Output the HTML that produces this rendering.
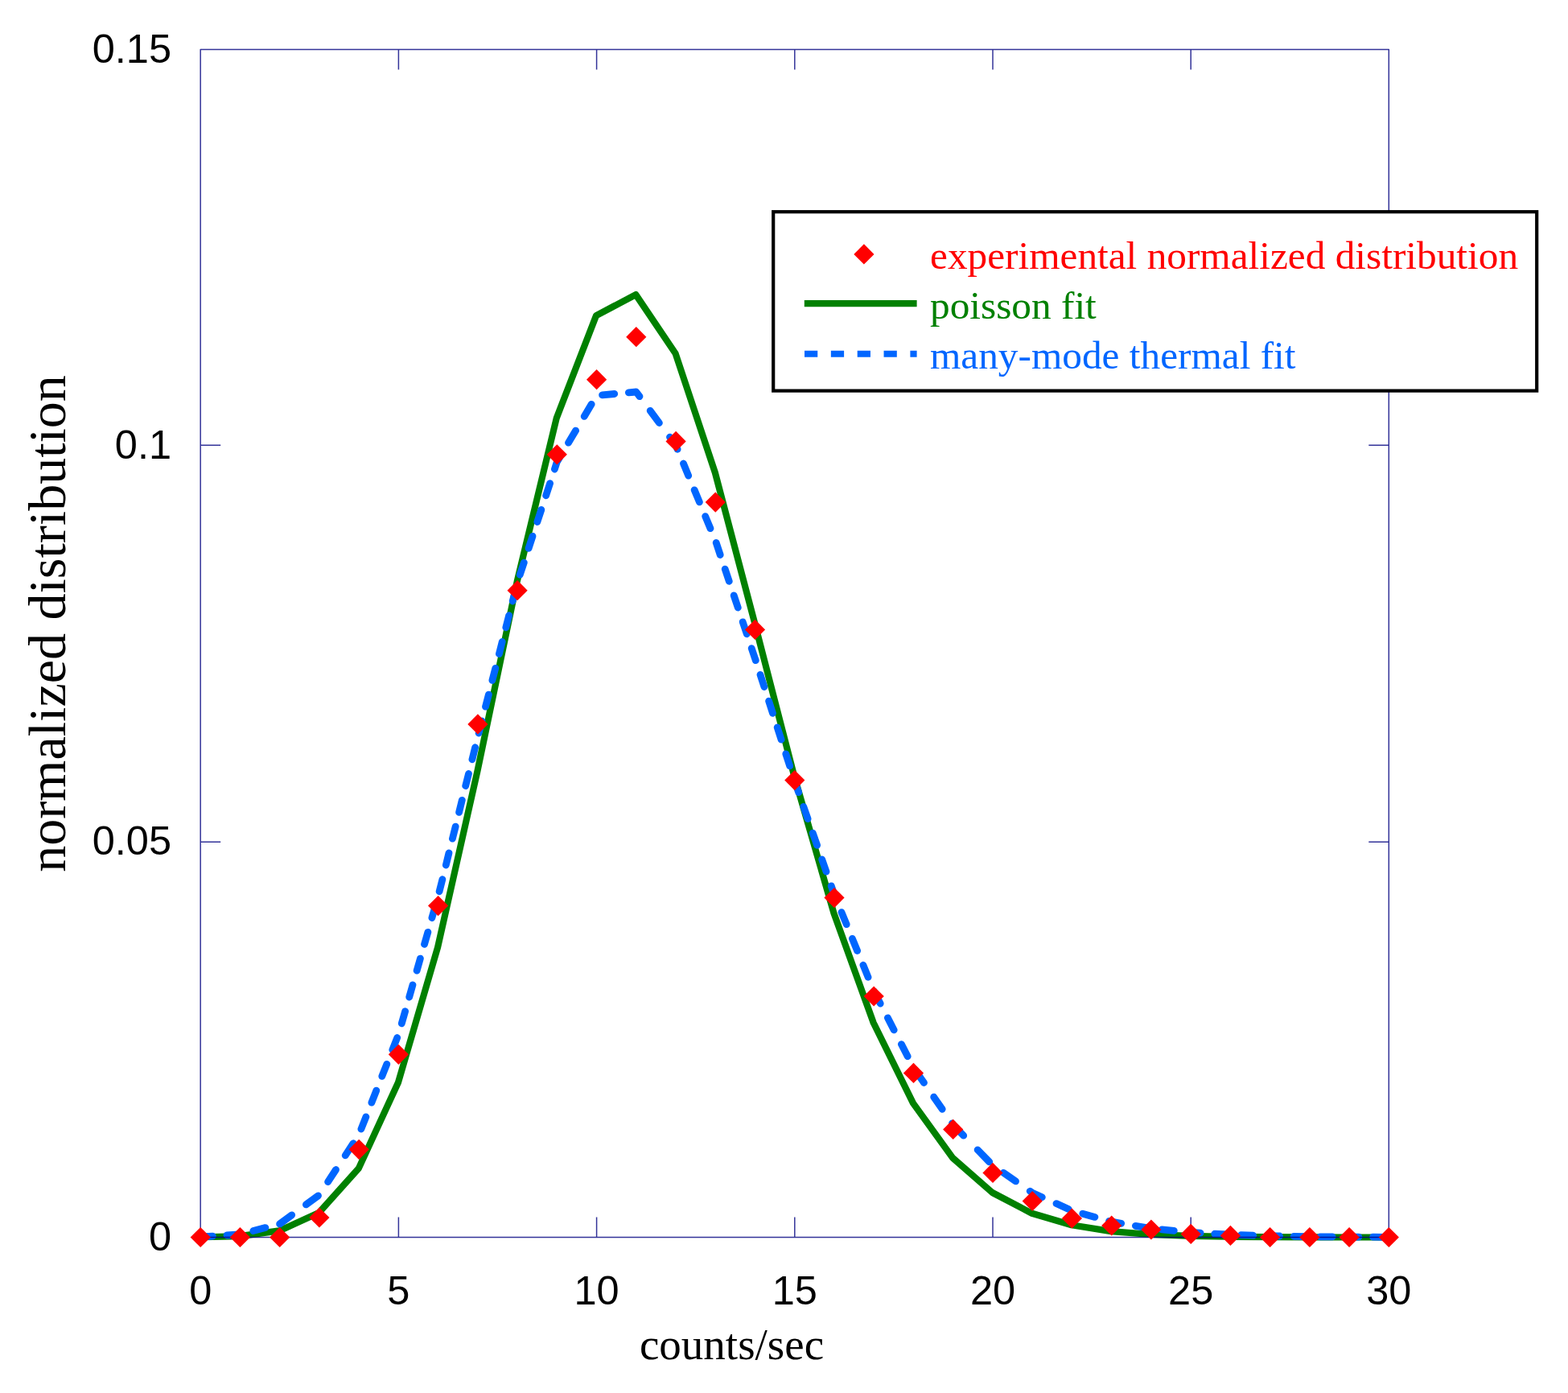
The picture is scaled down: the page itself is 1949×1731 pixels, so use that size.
<!DOCTYPE html>
<html><head><meta charset="utf-8"><title>normalized distribution</title>
<style>html,body{margin:0;padding:0;background:#fff;width:1949px;height:1731px;overflow:hidden}svg{display:block}</style>
</head><body>
<svg width="1949" height="1731" viewBox="0 0 1949 1731"><polyline points="248.7,1537.4 297.9,1536.1 347.2,1529.4 396.4,1507.1 445.7,1452.1 494.9,1345.3 544.1,1177.1 593.4,958.3 642.6,723.0 691.8,519.4 741.1,392.1 790.3,366.1 839.6,439.3 888.8,587.1 938.0,773.8 987.3,964.7 1036.5,1134.8 1085.7,1271.0 1135.0,1370.9 1184.2,1438.9 1233.5,1482.0 1282.7,1507.8 1331.9,1522.3 1381.2,1530.1 1430.4,1534.0 1479.7,1535.9 1528.9,1536.8 1578.1,1537.2 1627.4,1537.4 1676.6,1537.5 1725.8,1537.5" fill="none" stroke="#008000" stroke-width="8.2" stroke-linejoin="round" stroke-linecap="round"/>
<path d="M249.2 1537.1L264.3 1536.1M282.0 1535.0L297.1 1534.0M314.8 1529.6L329.9 1525.6M347.6 1520.9L347.7 1520.9L362.7 1509.9M380.4 1496.9L395.5 1485.9M407.6 1468.6L417.5 1453.5M429.2 1435.8L439.1 1420.7M448.9 1403.0L454.9 1387.9M461.9 1370.2L467.8 1355.1M474.8 1337.4L480.8 1322.3M487.8 1304.6L493.7 1289.5M499.3 1271.8L503.6 1256.7M508.7 1239.0L513.0 1223.9M518.1 1206.2L522.4 1191.1M527.5 1173.4L531.9 1158.3M536.9 1140.6L541.3 1125.5M546.1 1107.8L549.9 1092.7M554.3 1075.0L558.0 1059.9M562.4 1042.2L566.2 1027.1M570.6 1009.4L574.3 994.3M578.7 976.6L582.5 961.5M586.9 943.8L590.6 928.7M595.1 911.0L599.0 895.9M603.5 878.2L607.4 863.1M611.9 845.4L615.8 830.3M620.4 812.6L624.2 797.5M628.8 779.8L632.7 764.7M637.2 747.0L641.1 731.9M646.3 714.2L651.3 699.1M657.1 681.4L662.0 666.3M667.8 648.6L672.8 633.5M678.6 615.8L683.6 600.7M689.4 583.0L692.3 573.9L695.9 567.9M706.5 550.2L715.6 535.1M726.2 517.4L735.2 502.3M748.6 490.9L763.7 489.5M781.4 487.9L790.8 487.0L795.0 492.7M808.2 510.4L819.4 525.5M832.5 543.2L840.1 553.4L842.1 558.3M849.5 576.0L855.7 591.1M863.1 608.8L869.4 623.9M876.7 641.6L883.0 656.7M890.2 674.4L895.2 689.5M901.2 707.2L906.3 722.3M912.2 740.0L917.3 755.1M923.2 772.8L928.3 787.9M934.2 805.6L938.5 818.4L939.3 820.7M945.0 838.4L949.9 853.5M955.6 871.2L960.5 886.3M966.2 904.0L971.1 919.1M976.8 936.8L981.7 951.9M987.4 969.6L987.8 970.7L992.7 984.7M998.8 1002.4L1004.1 1017.5M1010.3 1035.2L1015.6 1050.3M1021.7 1068.0L1027.0 1083.1M1033.2 1100.8L1037.0 1111.8L1038.7 1115.9M1046.0 1133.6L1052.2 1148.7M1059.4 1166.4L1065.6 1181.5M1072.9 1199.2L1079.1 1214.3M1086.4 1232.0L1094.2 1247.1M1103.4 1264.8L1111.2 1279.9M1120.4 1297.6L1128.2 1312.7M1138.0 1330.4L1148.5 1345.5M1160.7 1363.2L1171.2 1378.3M1183.5 1396.0L1184.7 1397.8L1197.7 1411.1M1215.1 1428.8L1229.8 1443.9M1247.4 1457.4L1262.5 1467.9M1280.2 1480.2L1283.2 1482.2L1295.3 1487.7M1313.0 1495.6L1328.1 1502.4M1345.8 1508.2L1360.9 1512.4M1378.6 1517.4L1381.7 1518.2L1393.7 1520.3M1411.4 1523.3L1426.5 1525.9M1444.2 1527.9L1459.3 1529.4M1477.0 1531.2L1480.2 1531.5L1492.1 1532.2M1509.8 1533.2L1524.9 1534.0M1542.6 1534.7L1557.7 1535.2M1575.4 1535.7L1578.6 1535.8L1590.5 1536.0M1608.2 1536.3L1623.3 1536.6M1641.0 1536.8L1656.1 1536.9M1673.8 1537.0L1677.1 1537.1L1688.9 1537.1M1706.6 1537.2L1721.7 1537.3" fill="none" stroke="#0066ff" stroke-width="8.8" stroke-linejoin="round" stroke-linecap="round"/>
<path d="M249.2 61.5H1726.3V1537.5H249.2ZM249.2 1537.5V1512.5M249.2 61.5V86.5M495.4 1537.5V1512.5M495.4 61.5V86.5M741.6 1537.5V1512.5M741.6 61.5V86.5M987.8 1537.5V1512.5M987.8 61.5V86.5M1234.0 1537.5V1512.5M1234.0 61.5V86.5M1480.2 1537.5V1512.5M1480.2 61.5V86.5M1726.3 1537.5V1512.5M1726.3 61.5V86.5M249.2 1046.2H274.2M1726.3 1046.2H1701.3M249.2 553.3H274.2M1726.3 553.3H1701.3" fill="none" stroke="#000080" stroke-opacity="0.8" stroke-width="1.5" stroke-linejoin="round"/>
<g fill="#ff0000"><path d="M249.2 1524.9L261.8 1537.5L249.2 1550.1L236.6 1537.5Z"/><path d="M298.4 1524.9L311.0 1537.5L298.4 1550.1L285.8 1537.5Z"/><path d="M347.7 1524.9L360.3 1537.5L347.7 1550.1L335.1 1537.5Z"/><path d="M396.9 1500.4L409.5 1513.0L396.9 1525.6L384.3 1513.0Z"/><path d="M446.2 1415.7L458.8 1428.3L446.2 1440.9L433.6 1428.3Z"/><path d="M495.4 1297.7L508.0 1310.3L495.4 1322.9L482.8 1310.3Z"/><path d="M544.6 1113.0L557.2 1125.6L544.6 1138.2L532.0 1125.6Z"/><path d="M593.9 887.3L606.5 899.9L593.9 912.5L581.3 899.9Z"/><path d="M643.1 721.1L655.7 733.7L643.1 746.3L630.5 733.7Z"/><path d="M692.3 552.2L704.9 564.8L692.3 577.4L679.7 564.8Z"/><path d="M741.6 459.1L754.2 471.7L741.6 484.3L729.0 471.7Z"/><path d="M790.8 406.1L803.4 418.7L790.8 431.3L778.2 418.7Z"/><path d="M840.1 535.8L852.7 548.4L840.1 561.0L827.5 548.4Z"/><path d="M889.3 611.5L901.9 624.1L889.3 636.7L876.7 624.1Z"/><path d="M938.5 769.8L951.1 782.4L938.5 795.0L925.9 782.4Z"/><path d="M987.8 957.0L1000.4 969.6L987.8 982.2L975.2 969.6Z"/><path d="M1037.0 1103.0L1049.6 1115.6L1037.0 1128.2L1024.4 1115.6Z"/><path d="M1086.2 1225.4L1098.8 1238.0L1086.2 1250.6L1073.6 1238.0Z"/><path d="M1135.5 1320.8L1148.1 1333.4L1135.5 1346.0L1122.9 1333.4Z"/><path d="M1184.7 1390.8L1197.3 1403.4L1184.7 1416.0L1172.1 1403.4Z"/><path d="M1234.0 1444.8L1246.6 1457.4L1234.0 1470.0L1221.4 1457.4Z"/><path d="M1283.2 1479.9L1295.8 1492.5L1283.2 1505.1L1270.6 1492.5Z"/><path d="M1332.4 1501.4L1345.0 1514.0L1332.4 1526.6L1319.8 1514.0Z"/><path d="M1381.7 1510.4L1394.3 1523.0L1381.7 1535.6L1369.1 1523.0Z"/><path d="M1430.9 1515.4L1443.5 1528.0L1430.9 1540.6L1418.3 1528.0Z"/><path d="M1480.2 1520.8L1492.8 1533.4L1480.2 1546.0L1467.6 1533.4Z"/><path d="M1529.4 1522.8L1542.0 1535.4L1529.4 1548.0L1516.8 1535.4Z"/><path d="M1578.6 1524.9L1591.2 1537.5L1578.6 1550.1L1566.0 1537.5Z"/><path d="M1627.9 1524.9L1640.5 1537.5L1627.9 1550.1L1615.3 1537.5Z"/><path d="M1677.1 1524.9L1689.7 1537.5L1677.1 1550.1L1664.5 1537.5Z"/><path d="M1726.3 1524.9L1738.9 1537.5L1726.3 1550.1L1713.7 1537.5Z"/></g>
<rect x="961.2" y="263.2" width="949" height="222.4" fill="#fff" stroke="#000" stroke-width="4.2"/>
<g fill="#ff0000"><path d="M1073.9 303.3L1086.5 315.9L1073.9 328.5L1061.3 315.9Z"/></g>
<line x1="999.8" y1="377.2" x2="1139.6" y2="377.2" stroke="#008000" stroke-width="8.2"/>
<line x1="1000" y1="439.8" x2="1139.6" y2="439.8" stroke="#0066ff" stroke-width="8.1" stroke-dasharray="16.25 16.6"/>
<g style="font-family:'Liberation Serif','Times New Roman',serif;font-size:49.3px"><text x="1156" y="333.8" fill="#ff0000">experimental normalized distribution</text><text x="1156" y="396" fill="#008000">poisson fit</text><text x="1156" y="457.5" fill="#0066ff">many-mode thermal fit</text></g>
<g style="font-family:'Liberation Sans',Arial,sans-serif;font-size:50.5px" fill="#000"><text x="249.2" y="1621" text-anchor="middle">0</text><text x="495.4" y="1621" text-anchor="middle">5</text><text x="741.6" y="1621" text-anchor="middle">10</text><text x="987.8" y="1621" text-anchor="middle">15</text><text x="1234.0" y="1621" text-anchor="middle">20</text><text x="1480.2" y="1621" text-anchor="middle">25</text><text x="1726.3" y="1621" text-anchor="middle">30</text><text x="213" y="1554.0" text-anchor="end">0</text><text x="213" y="1062.0" text-anchor="end">0.05</text><text x="213" y="570.0" text-anchor="end">0.1</text><text x="213" y="78.0" text-anchor="end">0.15</text></g>
<text x="909.5" y="1688.7" text-anchor="middle" style="font-family:'Liberation Serif','Times New Roman',serif;font-size:55px">counts/sec</text>
<text transform="translate(80.8 775) rotate(-90)" text-anchor="middle" style="font-family:'Liberation Serif','Times New Roman',serif;font-size:66px">normalized distribution</text></svg>
</body></html>
